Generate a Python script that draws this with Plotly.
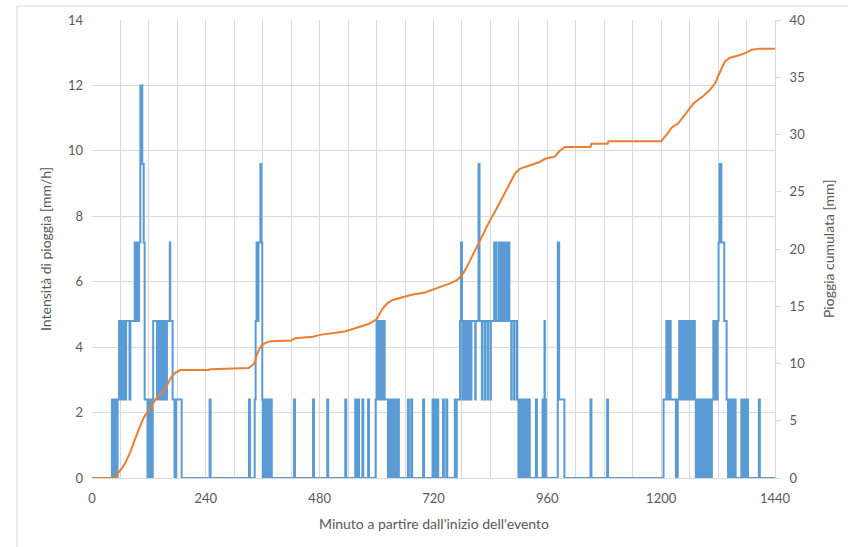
import plotly.graph_objects as go

# --- Rain intensity [mm/h]: (minute where the value starts, value) step changes ---
intensity_steps = [
    (0, 0), (42, 2.4), (45, 0), (46, 2.4), (49, 0), (50, 2.4), (53, 0), (54, 2.4),
    (57, 4.8), (59, 2.4), (60, 4.8), (62, 2.4), (63, 4.8), (65, 2.4), (66, 4.8), (68, 2.4),
    (69, 4.8), (71, 2.4), (72, 4.8), (79, 2.4), (81, 4.8), (90, 7.2), (92, 4.8), (93, 7.2),
    (95, 4.8), (96, 7.2), (98, 4.8), (99, 7.2), (102, 12), (106, 9.6), (109, 7.2), (111, 2.4),
    (117, 0), (118, 2.4), (120, 0), (121, 2.4), (123, 0), (124, 2.4), (126, 0), (128, 2.4),
    (129, 4.8), (137, 2.4), (138, 4.8), (140, 2.4), (141, 4.8), (143, 2.4), (144, 4.8),
    (146, 2.4), (147, 4.8), (149, 2.4), (150, 4.8), (152, 2.4), (153, 4.8), (155, 2.4),
    (158, 4.8), (164, 7.2), (165, 4.8), (170, 2.4), (174, 0), (177, 2.4), (189, 0),
    (248, 2.4), (250, 0), (331, 2.4), (333, 0),
    (343, 2.4), (345, 4.8), (347, 7.2), (350, 4.8), (351, 7.2), (355, 9.6), (357, 7.2),
    (359, 2.4), (360, 0), (361, 2.4), (363, 0), (364, 2.4), (366, 0), (368, 2.4), (369, 0),
    (371, 2.4), (372, 0), (374, 2.4), (375, 0), (377, 2.4), (379, 0),
    (426, 2.4), (428, 0), (466, 2.4), (468, 0), (496, 2.4), (498, 0), (534, 2.4), (536, 0),
    (555, 2.4), (557, 0), (561, 2.4), (563, 0), (570, 2.4), (572, 0), (582, 2.4), (584, 0),
    (598, 2.4), (600, 4.8), (602, 2.4), (603, 4.8), (605, 2.4), (606, 4.8), (608, 2.4),
    (609, 4.8), (611, 2.4), (612, 4.8), (614, 2.4), (615, 4.8), (617, 2.4), (624, 0),
    (625, 2.4), (628, 0), (630, 2.4), (632, 0), (635, 2.4), (638, 0), (640, 2.4), (641, 0),
    (645, 2.4), (647, 0), (666, 2.4), (668, 0), (673, 2.4), (675, 0), (698, 2.4), (700, 0),
    (718, 2.4), (720, 0), (722, 2.4), (724, 0), (727, 2.4), (730, 0), (740, 2.4), (742, 0),
    (747, 2.4), (749, 0), (765, 2.4), (767, 0), (769, 2.4),
    (776, 4.8), (778, 7.2), (780, 4.8), (781, 2.4), (782, 4.8), (784, 2.4), (785, 4.8),
    (787, 2.4), (788, 4.8), (790, 2.4), (791, 4.8), (793, 2.4), (794, 4.8), (796, 2.4),
    (797, 4.8), (799, 2.4), (800, 4.8), (808, 2.4), (809, 4.8), (815, 9.6), (817, 4.8),
    (822, 2.4), (823, 4.8), (828, 2.4), (829, 4.8), (834, 2.4), (835, 4.8), (840, 2.4),
    (841, 4.8), (848, 7.2), (850, 4.8), (851, 7.2), (853, 4.8), (858, 7.2), (860, 4.8),
    (862, 7.2), (864, 4.8), (866, 7.2), (868, 4.8), (870, 7.2), (872, 4.8), (874, 7.2),
    (876, 4.8), (877, 7.2), (880, 4.8), (884, 2.4), (885, 4.8), (890, 2.4), (891, 4.8),
    (896, 2.4), (899, 0), (900, 2.4), (902, 0), (904, 2.4), (906, 0), (908, 2.4), (909, 0),
    (912, 2.4), (914, 0), (916, 2.4), (917, 0), (921, 2.4), (923, 0), (936, 2.4), (938, 0),
    (950, 2.4), (952, 0), (953, 2.4), (954, 4.8), (955, 2.4), (957, 0),
    (982, 7.2), (985, 2.4), (996, 0), (1051, 2.4), (1053, 0), (1086, 2.4), (1088, 0),
    (1205, 2.4), (1211, 4.8), (1213, 2.4), (1214, 4.8), (1216, 2.4), (1217, 4.8), (1220, 2.4),
    (1231, 0), (1235, 2.4), (1238, 4.8), (1240, 2.4), (1241, 4.8), (1243, 2.4), (1244, 4.8),
    (1246, 2.4), (1247, 4.8), (1250, 2.4), (1251, 4.8), (1253, 2.4), (1257, 4.8), (1259, 2.4),
    (1260, 4.8), (1262, 2.4), (1263, 4.8), (1265, 2.4), (1266, 4.8), (1268, 2.4), (1269, 4.8),
    (1271, 2.4), (1273, 0), (1275, 2.4), (1277, 0), (1279, 2.4), (1281, 0), (1283, 2.4),
    (1285, 0), (1287, 2.4), (1289, 0), (1291, 2.4), (1293, 0), (1295, 2.4), (1297, 0),
    (1299, 2.4), (1301, 0), (1303, 2.4), (1305, 0), (1307, 2.4), (1310, 4.8), (1312, 2.4),
    (1313, 4.8), (1315, 2.4), (1316, 4.8), (1318, 2.4), (1319, 4.8), (1321, 7.2), (1323, 9.6),
    (1327, 7.2), (1333, 4.8), (1338, 2.4), (1341, 0), (1343, 2.4), (1345, 0), (1347, 2.4),
    (1349, 0), (1351, 2.4), (1353, 0), (1355, 2.4), (1357, 0), (1369, 2.4), (1371, 0),
    (1373, 2.4), (1375, 0), (1377, 2.4), (1379, 0), (1381, 2.4), (1383, 0), (1406, 2.4),
    (1408, 0), (1440, 0),
]
minute_int = [p[0] for p in intensity_steps]
intensity = [p[1] for p in intensity_steps]

# --- Cumulative rain [mm] ---
minute_cum = [0, 42, 50, 55, 62, 70, 80, 90, 100, 105, 112, 119, 126, 133, 145, 154, 162, 168,
              176, 186, 245, 250, 330, 340, 344, 348, 353, 358, 366, 376, 420, 428, 466, 481,
              533, 555, 583, 600, 606, 611, 617, 624, 634, 646, 674, 702, 722, 740, 755, 770,
              776, 783, 790, 797, 807, 818, 829, 839, 850, 860, 870, 881, 886, 892, 902, 923,
              944, 956, 976, 980, 987, 997, 1051, 1053, 1087, 1089, 1200, 1211, 1222, 1236,
              1245, 1257, 1268, 1278, 1290, 1303, 1314, 1319, 1324, 1330, 1335, 1345, 1363,
              1377, 1391, 1408, 1440]
cumulative = [0, 0, 0.15, 0.4, 0.8, 1.3, 2.2, 3.3, 4.4, 4.9, 5.5, 5.8, 6.3, 6.8, 7.4, 7.8, 8.4,
              8.85, 9.2, 9.43, 9.43, 9.5, 9.6, 9.9, 10.2, 10.8, 11.3, 11.6, 11.8, 11.95, 12.0,
              12.2, 12.34, 12.5, 12.8, 13.07, 13.45, 13.86, 14.3, 14.7, 15.0, 15.3, 15.55, 15.7,
              16.0, 16.2, 16.5, 16.8, 17.0, 17.3, 17.6, 17.9, 18.4, 19.0, 19.9, 20.8, 21.7,
              22.5, 23.3, 24.1, 24.9, 25.7, 26.2, 26.6, 27.0, 27.3, 27.6, 27.9, 28.06, 28.3,
              28.6, 28.9, 28.9, 29.2, 29.2, 29.4, 29.4, 29.96, 30.6, 30.98, 31.5, 32.1, 32.7,
              33.0, 33.4, 33.9, 34.5, 35.0, 35.5, 36.0, 36.4, 36.7, 36.9, 37.1, 37.4, 37.5, 37.5]

x_ticks = [0, 240, 480, 720, 960, 1200, 1440]
y_left_ticks = [0, 2, 4, 6, 8, 10, 12, 14]
y_right_ticks = [0, 5, 10, 15, 20, 25, 30, 35, 40]

FONT = "Lato, 'Open Sans', 'Liberation Sans', sans-serif"
TXT = "#595959"
GRID = "#D9D9D9"

fig = go.Figure()
fig.add_trace(go.Scatter(x=minute_int, y=intensity, mode="lines", line_shape="hv",
                         line=dict(color="#5B9BD5", width=2), name="Intensità", yaxis="y"))
fig.add_trace(go.Scatter(x=minute_cum, y=cumulative, mode="lines",
                         line=dict(color="#ED7D31", width=2), name="Cumulata", yaxis="y2"))

fig.update_layout(
    width=848, height=547,
    margin=dict(l=92, r=73, t=20, b=69),
    paper_bgcolor="white", plot_bgcolor="white",
    showlegend=False,
    font=dict(family=FONT, size=13, color=TXT),
    xaxis=dict(range=[0, 1440], tickvals=x_ticks, showgrid=True, gridcolor=GRID, gridwidth=1,
               minor=dict(dtick=60, showgrid=True, gridcolor=GRID, gridwidth=1),
               zeroline=False, showline=True, linecolor=GRID, ticks="",
               ticklabelstandoff=8, tickfont=dict(size=13, color=TXT)),
    yaxis=dict(range=[0, 14], tickvals=y_left_ticks, showgrid=True, gridcolor=GRID,
               zeroline=False, showline=False, ticks="", ticklabelstandoff=8,
               tickfont=dict(size=13, color=TXT)),
    yaxis2=dict(range=[0, 40], tickvals=y_right_ticks, overlaying="y", side="right",
                showgrid=False, zeroline=False, showline=True, linecolor=GRID,
                ticks="outside", ticklen=5, tickcolor=GRID, ticklabelstandoff=6,
                tickfont=dict(size=13, color=TXT)),
    annotations=[
        dict(text="Intensità di pioggia [mm/h]", xref="paper", yref="paper", x=-0.0688, y=0.5,
             textangle=-90, showarrow=False, xanchor="center", yanchor="middle",
             font=dict(size=14, color=TXT, family=FONT)),
        dict(text="Pioggia cumulata [mm]", xref="paper", yref="paper", x=1.0776, y=0.5,
             textangle=-90, showarrow=False, xanchor="center", yanchor="middle",
             font=dict(size=14, color=TXT, family=FONT)),
        dict(text="Minuto a partire dall'inizio dell'evento", xref="paper", yref="paper",
             x=0.5, y=-0.0983, showarrow=False, xanchor="center", yanchor="middle",
             font=dict(size=14, color=TXT, family=FONT)),
    ],
    shapes=[
        dict(type="rect", xref="paper", yref="paper", x0=-0.1098, y0=-0.2, x1=1.2, y1=1.0306,
             line=dict(color=GRID, width=1), layer="below"),
    ],
)

fig.write_html("out.html")
